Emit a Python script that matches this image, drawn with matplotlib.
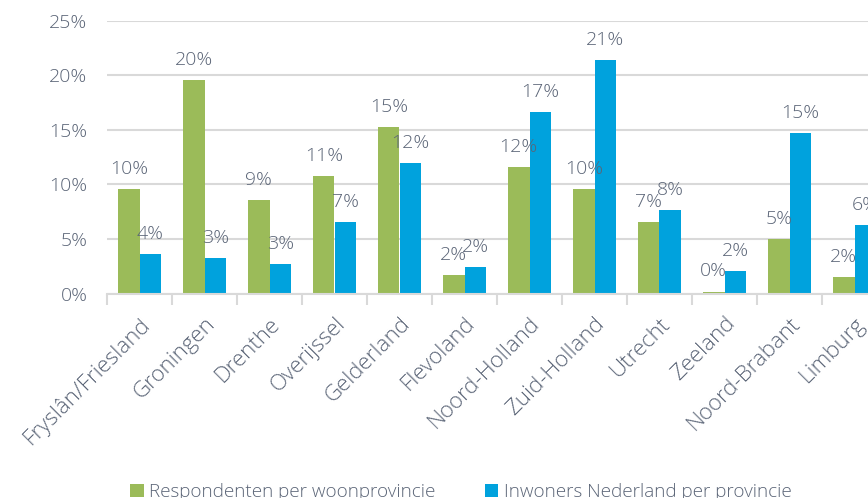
import numpy as np
import matplotlib.pyplot as plt
from matplotlib.ticker import FuncFormatter, FixedLocator

# Provinces and shares (%)
provinces = ["Fryslân/Friesland", "Groningen", "Drenthe", "Overijssel", "Gelderland",
             "Flevoland", "Noord-Holland", "Zuid-Holland", "Utrecht", "Zeeland",
             "Noord-Brabant", "Limburg"]
respondenten = [9.6, 19.6, 8.55, 10.8, 15.3, 1.7, 11.6, 9.6, 6.55, 0.2, 5.0, 1.55]
inwoners = [3.6, 3.3, 2.7, 6.6, 12.0, 2.4, 16.6, 21.4, 7.7, 2.1, 14.7, 6.25]

green = "#9bbb59"
blue = "#00a2dd"
txt = "#5b6577"
grid = "#d9d9d9"
fs = 14

plt.rcParams['font.family'] = ['Open Sans', 'DejaVu Sans']
plt.rcParams['font.weight'] = 'light'

fig = plt.figure(figsize=(8.68, 4.98), dpi=100)
ax = fig.add_axes([107 / 868, 204.3 / 498, 780 / 868, 273 / 498])

x = np.arange(len(provinces))
w = 0.33
b1 = ax.bar(x - w / 2, respondenten, w, color=green, label="Respondenten per woonprovincie")
b2 = ax.bar(x + w / 2, inwoners, w, color=blue, label="Inwoners Nederland per provincie")

for bars, vals in ((b1, respondenten), (b2, inwoners)):
    for rect, v in zip(bars, vals):
        ax.annotate(f"{v:.0f}%", (rect.get_x() + rect.get_width() / 2, v),
                    xytext=(0, 8), textcoords="offset points",
                    ha="center", va="bottom", fontsize=fs, color=txt)

ax.set_xlim(-0.5, len(provinces) - 0.5)
ax.set_ylim(0, 25)
ax.set_yticks([0, 5, 10, 15, 20, 25])
ax.yaxis.set_major_formatter(FuncFormatter(lambda v, p: f"{v:.0f}%"))
ax.yaxis.grid(True, color=grid, linewidth=1.5)
ax.set_axisbelow(True)

ax.set_xticks(x)
ax.set_xticklabels(provinces, rotation=45, ha="right", rotation_mode="anchor",
                   fontsize=16, color=txt)
ax.xaxis.set_minor_locator(FixedLocator(np.arange(-0.5, len(provinces), 1)))
ax.tick_params(axis="x", which="major", length=0, pad=14)
ax.tick_params(axis="x", which="minor", length=8, width=1.5, color=grid)
ax.tick_params(axis="y", length=0, pad=14, labelsize=fs, labelcolor=txt)

for s in ("top", "right", "left"):
    ax.spines[s].set_visible(False)
ax.spines["bottom"].set_color(grid)
ax.spines["bottom"].set_linewidth(1.5)

fig.legend(handles=[b1, b2], loc="center", bbox_to_anchor=(0.531, 0.012), ncol=2,
           frameon=False, fontsize=13.6, labelcolor=txt, handlelength=0.7,
           handleheight=0.7, handletextpad=0.3, columnspacing=2.6)

fig.savefig("out.png", dpi=100)
